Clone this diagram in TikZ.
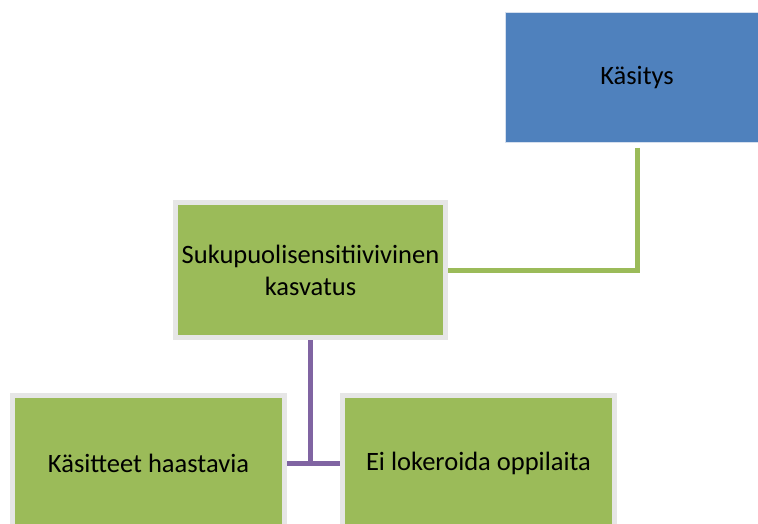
\documentclass[tikz,border=0pt]{standalone}
\usepackage{fontspec}
\setmainfont{Carlito}
\definecolor{oblue}{HTML}{4F81BD}
\definecolor{ogreen}{HTML}{9BBB59}
\definecolor{opurple}{HTML}{8064A2}
\definecolor{oborder}{HTML}{E6E6E6}
\definecolor{bborder}{HTML}{D5DFEE}
\begin{document}
\begin{tikzpicture}[x=1pt,y=-1pt,
  gbox/.style={draw=oborder, line width=5pt, fill=ogreen, minimum width=272pt, minimum height=135pt, inner sep=0pt, outer sep=0pt, align=center, font=\fontsize{26.5}{32}\selectfont},
  bbox/.style={draw=bborder, line width=1pt, fill=oblue, minimum width=264pt, minimum height=130pt, inner sep=0pt, outer sep=0pt, align=center, font=\fontsize{26.5}{32}\selectfont},
  glink/.style={draw=ogreen, line width=5pt},
  plink/.style={draw=opurple, line width=5pt}]
\useasboundingbox (0,0) rectangle (758,524);
\node[bbox] (kas) at (637,78) {Käsitys};
\node[gbox, minimum width=270pt] (suk) at (310.5,270) {Sukupuolisensitiivivinen\\kasvatus};
\node[gbox] (bl) at (148.5,463) {Käsitteet haastavia};
\node[gbox] (br) at (478.5,463) {Ei lokeroida oppilaita};
\draw[glink] ([yshift=-5pt]kas.south) |- ([xshift=2.5pt]suk.east);
\draw[plink] ([yshift=-2.5pt]suk.south) -- (suk.south |- bl.east);
\draw[plink] ([xshift=2.5pt]bl.east) -- ([xshift=-2.5pt]br.west);
\end{tikzpicture}
\end{document}
